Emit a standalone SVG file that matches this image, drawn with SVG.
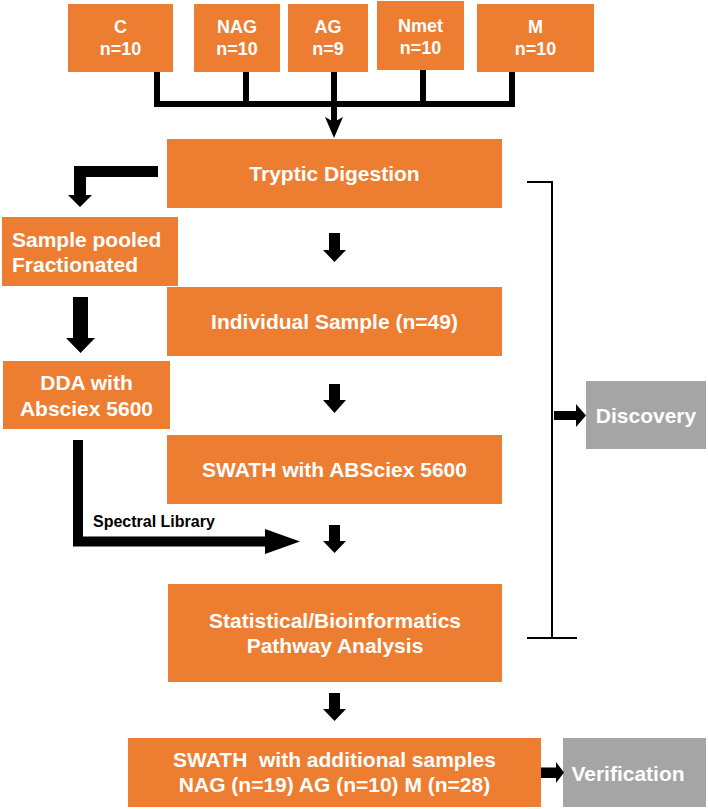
<svg xmlns="http://www.w3.org/2000/svg" width="708" height="809" viewBox="0 0 708 809">
<style>
.box{fill:#ED7D31}
.gbox{fill:#A5A5A5}
.t{font-family:"Liberation Sans",Arial,sans-serif;font-weight:bold;fill:#fff;font-size:21px;text-anchor:middle}
.s{font-size:18px}
.lbl{font-family:"Liberation Sans",Arial,sans-serif;font-weight:bold;fill:#000;font-size:16px}
.ln{stroke:#000;fill:none}
.ar{fill:#000}
</style>
<rect width="708" height="809" fill="#fff"/>
<g id="node-C"><rect class="box" x="68" y="4" width="105" height="68"/><text class="t s" x="120.5" y="33">C</text><text class="t s" x="120.5" y="55">n=10</text></g>
<g id="node-NAG"><rect class="box" x="194" y="4" width="86" height="68"/><text class="t s" x="237" y="33">NAG</text><text class="t s" x="237" y="55">n=10</text></g>
<g id="node-AG"><rect class="box" x="288" y="4" width="80" height="68"/><text class="t s" x="328" y="33">AG</text><text class="t s" x="328" y="55">n=9</text></g>
<g id="node-Nmet"><rect class="box" x="377" y="1" width="87" height="69"/><text class="t s" x="420.5" y="32">Nmet</text><text class="t s" x="420.5" y="54">n=10</text></g>
<g id="node-M"><rect class="box" x="477" y="4" width="117" height="68"/><text class="t s" x="535.5" y="33">M</text><text class="t s" x="535.5" y="55">n=10</text></g>
<g id="node-tryptic"><rect class="box" x="167" y="139" width="335" height="69"/><text class="t" x="334.5" y="181">Tryptic Digestion</text></g>
<g id="node-pooled"><rect class="box" x="2" y="217" width="176" height="69"/><text class="t" x="12" y="247" style="text-anchor:start">Sample pooled</text><text class="t" x="12" y="272" style="text-anchor:start">Fractionated</text></g>
<g id="node-individual"><rect class="box" x="167" y="287" width="335" height="69"/><text class="t" x="334.5" y="329">Individual Sample (n=49)</text></g>
<g id="node-dda"><rect class="box" x="3" y="361" width="167" height="68"/><text class="t" x="86.5" y="390">DDA with</text><text class="t" x="86.5" y="416">Absciex 5600</text></g>
<g id="node-swath"><rect class="box" x="167" y="435" width="335" height="69"/><text class="t" x="334.5" y="477">SWATH with ABSciex 5600</text></g>
<g id="node-stat"><rect class="box" x="168" y="584" width="334" height="98"/><text class="t" x="335" y="628">Statistical/Bioinformatics</text><text class="t" x="335" y="653">Pathway Analysis</text></g>
<g id="node-additional"><rect class="box" x="128" y="738" width="413" height="69"/><text class="t" x="334.5" y="767" style="white-space:pre">SWATH  with additional samples</text><text class="t" x="334.5" y="792">NAG (n=19) AG (n=10) M (n=28)</text></g>
<g id="node-discovery"><rect class="gbox" x="586" y="381" width="120" height="68"/><text class="t" x="646" y="423">Discovery</text></g>
<g id="node-verification"><rect class="gbox" x="563" y="738" width="143" height="69"/><text class="t" x="628" y="781">Verification</text></g>
<g id="connectors">
<path class="ln" stroke-width="6" d="M157,72V104M246,72V104M423,70V104M512,72V104M154,104H515M334,72V122"/>
<polygon class="ar" points="325,117 334,122 343,117 334,138"/>
<polygon class="ar" points="158,166 74,166 74,195 68,195 80,207 92,195 86,195 86,177 158,177"/>
<polygon class="ar" points="73,297 88,297 88,338 95,338 80.5,353 66,338 73,338"/>
<path class="ln" stroke-width="10" stroke-linejoin="miter" d="M78,440V541.5H266"/>
<polygon class="ar" points="265,529 300,541.5 265,554"/>
<text class="lbl" x="93" y="527">Spectral Library</text>
<polygon class="ar" points="329,233 340,233 340,250 346,250 334.5,262 323,250 329,250"/>
<polygon class="ar" points="329,384 340,384 340,400 346,400 334.5,413 323,400 329,400"/>
<polygon class="ar" points="329,525 340,525 340,541 346,541 334.5,553 323,541 329,541"/>
<polygon class="ar" points="329,693 340,693 340,709 346,709 334.5,721 323,709 329,709"/>
<path class="ln" stroke-width="2" d="M527,182H552V638M527,638H577"/>
<polygon class="ar" points="554,411 576,411 576,404 586,415.5 576,427 576,420 554,420"/>
<polygon class="ar" points="541,767.5 556,767.5 556,762 564,772.5 556,783 556,778 541,778"/>
</g>
</svg>
